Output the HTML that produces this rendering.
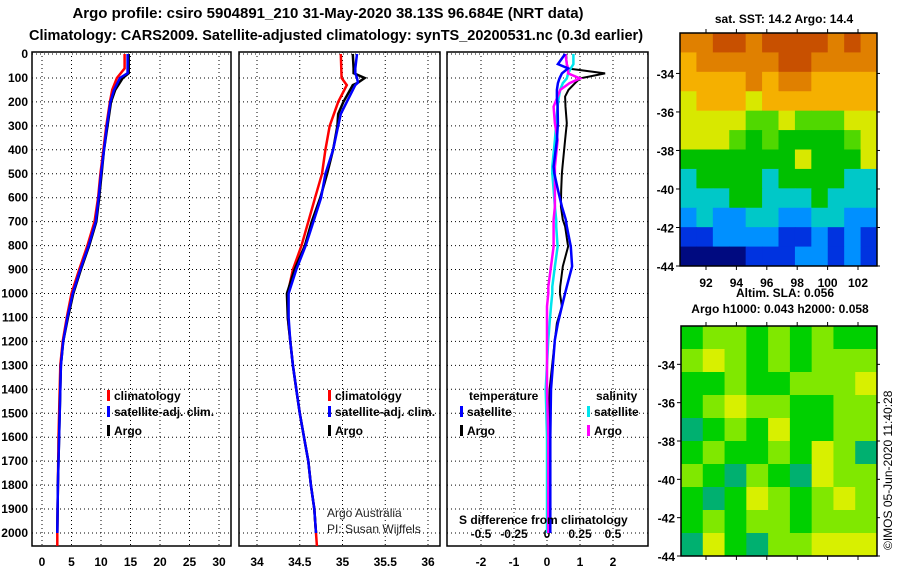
<!DOCTYPE html>
<html><head><meta charset="utf-8"><style>
body{margin:0;background:#fff;}
svg{display:block;font-family:"Liberation Sans",sans-serif;}
.b{font-weight:bold;font-size:12px;}
</style></head><body>
<svg id="c" width="900" height="580" viewBox="0 0 900 580"></svg>
<script>
// ---- data ----
const depthTicks=[0,100,200,300,400,500,600,700,800,900,1000,1100,1200,1300,1400,1500,1600,1700,1800,1900,2000];
const tTicks=[0,5,10,15,20,25,30];
const sTicks=[34,34.5,35,35.5,36];
const dTTicks=[-2,-1,0,1,2];
const dSTicks=[-0.5,-0.25,0,0.25,0.5];
const dSLabels=["-0.5","-0.25","0","0.25","0.5"];
const tDepth=[0,80,100,150,200,300,400,500,600,700,800,900,1000,1100,1200,1300,1400,1500,1600,1800,2000];
const tArgo=[14.7,14.7,13.7,12.4,11.7,11.1,10.5,10.1,9.7,9.2,8.0,6.6,5.3,4.4,3.6,3.2,3.1,3.0,2.9,2.7,2.6];
const tClimDepth=[0,60,100,150,200,300,400,500,600,700,800,900,1000,1100,1200,1300,1400,1500,1600,1800,2000,2054];
const tClim=[14.0,14.0,12.7,11.9,11.5,10.9,10.4,9.9,9.5,8.9,7.7,6.3,5.0,4.2,3.5,3.1,3.0,2.9,2.8,2.7,2.6,2.6];
const tSat=[14.5,14.5,13.2,12.2,11.6,11.0,10.5,10.0,9.6,9.1,7.9,6.5,5.2,4.3,3.6,3.2,3.1,3.0,2.9,2.7,2.6];
const sDepth=[0,60,80,100,120,130,200,250,300,400,500,600,700,800,900,1000,1100,1200,1300,1400,1500,1600,1700,1800,1900,2000];
const sArgo=[35.12,35.13,35.13,35.26,35.18,35.12,35.01,34.95,34.94,34.89,34.82,34.74,34.64,34.56,34.44,34.35,34.36,34.39,34.42,34.46,34.50,34.55,34.60,34.63,34.67,34.69];
const sSat=[35.17,35.15,35.15,35.17,35.18,35.15,35.05,34.98,34.95,34.89,34.80,34.75,34.66,34.57,34.46,34.37,34.37,34.39,34.42,34.46,34.50,34.55,34.60,34.63,34.67,34.69];
const sClimDepth=[0,100,130,200,300,400,500,600,700,800,900,950,1000,1100,1200,1300,1400,1500,1600,1700,1800,1900,2000,2054];
const sClim=[34.98,34.99,35.05,34.95,34.85,34.80,34.76,34.68,34.60,34.52,34.42,34.39,34.36,34.36,34.39,34.42,34.46,34.50,34.55,34.60,34.63,34.67,34.69,34.70];
const dDepth=[0,42,60,81,102,122,150,178,220,289,359,470,498,567,637,692,720,804,887,971,999,1054,1124,1193,1400,1600,1800,2000];
const dTArgo=[0.58,0.6,0.61,1.76,1.0,0.85,0.65,0.55,0.56,0.6,0.55,0.47,0.45,0.43,0.42,0.48,0.55,0.64,0.48,0.40,0.39,0.45,0.30,0.24,0.08,0.06,0.05,0.05];
const dTSat=[0.55,0.33,0.64,0.45,0.38,0.33,0.30,0.30,0.32,0.33,0.30,0.20,0.22,0.33,0.45,0.57,0.60,0.72,0.76,0.60,0.55,0.45,0.33,0.24,0.12,0.1,0.1,0.1];
const dSArgo=[0.14,0.15,0.16,0.16,0.25,0.17,0.10,0.08,0.05,0.06,0.08,0.06,0.06,0.06,0.06,0.05,0.05,0.05,0.03,0.01,0.01,0.0,0.0,0.0,0.0,0.01,0.01,0.01];
const dSSat=[0.2,0.2,0.18,0.16,0.15,0.12,0.10,0.09,0.08,0.07,0.06,0.04,0.04,0.05,0.06,0.07,0.07,0.08,0.06,0.04,0.04,0.03,0.02,0.01,-0.01,0.0,0.0,0.0];
const sstGrid=[
[8,8,9,9,8,9,9,9,9,8,9,8],[7,8,8,8,8,8,9,9,8,8,8,8],[7,7,7,7,8,7,8,8,7,7,7,7],[6,7,7,7,6,7,7,7,7,7,7,7],
[6,6,6,6,5,5,6,5,5,5,6,6],[6,6,6,5,4,5,4,4,4,4,5,6],[4,4,4,4,4,4,4,6,4,4,4,6],[3,4,4,4,4,3,4,4,4,4,3,3],
[3,3,3,4,4,3,3,3,4,3,3,3],[2,3,2,2,3,3,2,2,3,3,2,2],[1,1,2,2,2,2,1,1,2,1,2,1],[0,0,0,0,1,1,1,2,2,1,2,1]];
const slaGrid=[
[1,2,2,1,2,1,2,1,1],[2,3,2,1,2,1,2,2,2],[1,1,2,1,1,2,2,2,3],[1,2,3,2,2,1,1,2,2],[0,1,2,1,3,1,1,2,2],
[1,2,1,1,2,1,3,2,0],[2,1,0,2,1,0,3,2,2],[1,0,1,3,2,1,2,3,2],[1,2,1,2,2,1,2,2,2],[0,3,1,0,2,2,3,3,3]];
const latTicks=[-34,-36,-38,-40,-42,-44];
const lonTicks=[92,94,96,98,100,102];

const NS="http://www.w3.org/2000/svg",svg=document.getElementById('c');
function el(t,a,p){const e=document.createElementNS(NS,t);for(const k in a)e.setAttribute(k,a[k]);(p||svg).appendChild(e);return e;}
function txt(x,y,s,a){const e=el('text',Object.assign({x:x,y:y},a||{}));e.textContent=s;return e;}
const yD=d=>54+d*0.2395;
const TOP=52;
const panels=[{l:32,r:231},{l:239,r:440},{l:447,r:648}];
const xT=v=>42+5.9*v, xS=v=>257+85.5*(v-34), xDT=v=>547+33*v, xDS=v=>547+132*v;
const gx=[tTicks.map(xT),sTicks.map(xS),dTTicks.map(xDT)];
panels.forEach((p,i)=>{
  const g=el('g',{});
  
  
  depthTicks.forEach(d=>el('line',{x1:p.l,x2:p.r,y1:yD(d),y2:yD(d),stroke:'#000','stroke-dasharray':'1,3','stroke-width':1},g));
  gx[i].forEach(x=>el('line',{x1:x,x2:x,y1:TOP,y2:546,stroke:'#000','stroke-dasharray':'1,3','stroke-width':1},g));
  el('rect',{x:p.l,y:TOP,width:p.r-p.l,height:546-TOP,fill:'none',stroke:'#000','stroke-width':1.5},g);
});
depthTicks.forEach(d=>{const t=txt(28,yD(d)+4,String(d),{class:'b','text-anchor':'end'});
});
tTicks.forEach(v=>{const t=txt(xT(v),566,String(v),{class:'b','text-anchor':'middle'});});
sTicks.forEach(v=>{const t=txt(xS(v),566,String(v),{class:'b','text-anchor':'middle'});});
dTTicks.forEach(v=>{const t=txt(xDT(v),566,String(v),{class:'b','text-anchor':'middle'});});
dSTicks.forEach((v,i)=>{const t=txt(xDS(v),538,dSLabels[i],{class:'b','text-anchor':'middle'});});
function line(xs,ds,fx,col,name,w){
  const pts=xs.map((v,i)=>fx(v).toFixed(1)+','+yD(ds[i]).toFixed(1)).join(' ');
  const e=el('polyline',{points:pts,fill:'none',stroke:col,'stroke-width':w||2.5,'stroke-linejoin':'miter'});
  
}
line(tClim,tClimDepth,xT,'#ff0000','temp-climatology-line');
line(tArgo,tDepth,xT,'#000','temp-argo-line');
line(tSat,tDepth,xT,'#0000ff','temp-satellite-line');
line(sClim,sClimDepth,xS,'#ff0000','sal-climatology-line');
line(sArgo,sDepth,xS,'#000','sal-argo-line');
line(sSat,sDepth,xS,'#0000ff','sal-satellite-line');
line(dTArgo,dDepth,xDT,'#000','temp-diff-argo-line',2);
line(dSSat,dDepth,xDS,'#00e5ee','sal-diff-satellite-line',2.5);
line(dSArgo,dDepth,xDS,'#ff00ff','sal-diff-argo-line',2.5);
line(dTSat,dDepth,xDT,'#0000ff','temp-diff-satellite-line',2.5);
// legends
function leg(x,y,col,s,name){const g=el('g',{});
 el('rect',{x:x,y:y-10,width:3,height:11,fill:col},g);const t=txt(x+7,y,s,{class:'b'});g.appendChild(t);}
leg(107,400,'#ff0000','climatology','legend-climatology-t');
leg(107,416,'#0000ff','satellite-adj. clim.','legend-satellite-t');
leg(107,435,'#000','Argo','legend-argo-t');
leg(328,400,'#ff0000','climatology','legend-climatology-s');
leg(328,416,'#0000ff','satellite-adj. clim.','legend-satellite-s');
leg(328,435,'#000','Argo','legend-argo-s');
txt(469,400,'temperature',{class:'b'});txt(596,400,'salinity',{class:'b'});
leg(460,416,'#0000ff','satellite','legend-diff-t-sat');leg(460,435,'#000','Argo','legend-diff-t-argo');
leg(587,416,'#00e5ee','satellite','legend-diff-s-sat');leg(587,435,'#ff00ff','Argo','legend-diff-s-argo');
txt(459,524,'S difference from climatology',{class:'b'});
txt(327,517,'Argo Australia',{'font-size':'12px',fill:'#222'});
txt(327,533,'PI: Susan Wijffels',{'font-size':'12px',fill:'#222'});
// titles
txt(328,18,'Argo profile: csiro 5904891_210 31-May-2020 38.13S 96.684E (NRT data)',{'font-size':'15px','font-weight':'bold','text-anchor':'middle'});
txt(336,40,'Climatology: CARS2009. Satellite-adjusted climatology: synTS_20200531.nc (0.3d earlier)',{'font-size':'14.5px','font-weight':'bold','text-anchor':'middle'});
txt(784,23,'sat. SST: 14.2 Argo: 14.4',{class:'b','text-anchor':'middle'});
txt(785,297,'Altim. SLA: 0.056',{class:'b','text-anchor':'middle'});
txt(780,313,'Argo h1000: 0.043 h2000: 0.058',{class:'b','text-anchor':'middle'});
// maps
const pal1=['#000a80','#0033e0','#0090ff','#00c8c8','#00c000','#50d800','#d8e800','#f5b000','#e08000','#c85000'];
const pal2=['#00b070','#00d000','#80e800','#d8f000'];
function map(x0,y0,w,h,grid,pal,name,latTop,latBot){
  const g=el('g',{});
  const R=grid.length,C=grid[0].length,cw=w/C,ch=h/R;
  grid.forEach((row,r)=>row.forEach((v,c)=>el('rect',{x:x0+c*cw,y:y0+r*ch,width:cw+0.5,height:ch+0.5,fill:pal[v]},g)));
  el('rect',{x:x0,y:y0,width:w,height:h,fill:'none',stroke:'#000','stroke-width':1.5},g);
  const yl=l=>y0+(latTop-l)/(latTop-latBot)*h;
  latTicks.forEach(l=>{const y=yl(l);el('line',{x1:x0-4,x2:x0,y1:y,y2:y,stroke:'#000'},g);el('line',{x1:x0+w,x2:x0+w+3,y1:y,y2:y,stroke:'#000'},g);
    const t=txt(x0-6,y+5,String(l),{class:'b','text-anchor':'end','font-size':'13px'});});
  const xl=o=>706+(o-92)*15.2;
  lonTicks.forEach(o=>{el('line',{x1:xl(o),x2:xl(o),y1:y0+h,y2:y0+h+4,stroke:'#000'},g);el('line',{x1:xl(o),x2:xl(o),y1:y0-4,y2:y0,stroke:'#000'},g);});
  return xl;
}
const xl=map(680,33,197,233,sstGrid,pal1,'sst-map',-31.9,-44);
lonTicks.forEach(o=>{const t=txt(xl(o),287,String(o),{class:'b','text-anchor':'middle','font-size':'13px'});});
map(681,326,196,230,slaGrid,pal2,'sla-map',-32,-44);
txt(0,0,'©IMOS 05-Jun-2020 11:40:28',{'font-size':'12px',transform:'translate(892,550) rotate(-90)'});
</script>
</body></html>
